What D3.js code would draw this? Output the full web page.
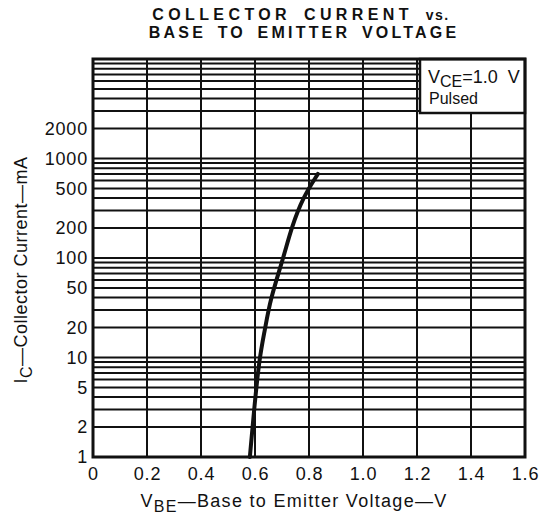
<!DOCTYPE html>
<html>
<head>
<meta charset="utf-8">
<script src="https://cdn.jsdelivr.net/npm/d3@7"></script>
<style>
  html, body { margin: 0; padding: 0; background: #fff; }
  svg { display: block; font-family: "Liberation Sans", Arial, Helvetica, sans-serif; }
</style>
</head>
<body>
<svg id="chart" width="542" height="521"></svg>
<script>
  'use strict';

  // chart values
  var vbeValues = [0.581, 0.594, 0.616, 0.637, 0.656, 0.705, 0.736, 0.779, 0.833];
  var icValues = [1, 2.5, 10, 19, 38, 100, 206, 413, 700];
  var xTickValues = [0, 0.2, 0.4, 0.6, 0.8, 1.0, 1.2, 1.4, 1.6];
  var xTickLabels = ['0', '0.2', '0.4', '0.6', '0.8', '1.0', '1.2', '1.4', '1.6'];
  var yTickValues = [1, 2, 5, 10, 20, 50, 100, 200, 500, 1000, 2000];
  var titleLines = ['COLLECTOR CURRENT', 'BASE TO EMITTER VOLTAGE'];

  (function () {
    var svg = d3.select('#chart'),
      left = 93,
      right = 525,
      top = 59,
      bottom = 457;

    var x = d3.scaleLinear().domain([0, 1.6]).range([left, right]);
    var y = d3.scaleLog().domain([1, 10000]).range([bottom, top]);

    // minor log grid: 1..9 in every decade
    var gridY = [];
    [1, 10, 100, 1000].forEach(function (dec) {
      for (var k = 1; k < 10; k++) gridY.push(dec * k);
    });

    var legendBox = { x0: 420, y1: 113 };

    var grid = svg.append('g');

    grid.selectAll('line.h')
      .data(gridY)
      .enter().append('line')
      .attr('class', 'h')
      .attr('x1', left).attr('x2', right)
      .attr('y1', function (d) { return y(d); })
      .attr('y2', function (d) { return y(d); })
      .attr('stroke', '#111')
      .attr('stroke-width', 2);

    grid.selectAll('line.v')
      .data(xTickValues.slice(1, -1))
      .enter().append('line')
      .attr('class', 'v')
      .attr('x1', function (d) { return x(d); })
      .attr('x2', function (d) { return x(d); })
      .attr('y1', top).attr('y2', bottom)
      .attr('stroke', '#111')
      .attr('stroke-width', 2);

    // legend box (covers the grid under it)
    var legend = svg.append('g');
    legend.append('rect')
      .attr('x', legendBox.x0).attr('y', top)
      .attr('width', right - legendBox.x0).attr('height', legendBox.y1 - top)
      .attr('fill', '#fff')
      .attr('stroke', '#111')
      .attr('stroke-width', 2.5);

    var vce = legend.append('text')
      .attr('x', 428).attr('y', 83)
      .attr('font-size', 18)
      .attr('fill', '#111');
    vce.append('tspan').text('V');
    vce.append('tspan').attr('dy', 4).attr('font-size', 16).text('CE');
    vce.append('tspan').attr('dy', -4).attr('xml:space', 'preserve').text('=1.0  V');

    legend.append('text')
      .attr('x', 429).attr('y', 104)
      .attr('font-size', 16)
      .attr('fill', '#111')
      .text('Pulsed');

    // plot border
    svg.append('rect')
      .attr('x', left).attr('y', top)
      .attr('width', right - left).attr('height', bottom - top)
      .attr('fill', 'none')
      .attr('stroke', '#111')
      .attr('stroke-width', 3);

    // curve
    var line = d3.line()
      .x(function (d) { return x(d[0]); })
      .y(function (d) { return y(d[1]); })
      .curve(d3.curveBasis);

    svg.append('path')
      .datum(d3.zip(vbeValues, icValues))
      .attr('d', line)
      .attr('fill', 'none')
      .attr('stroke', '#111')
      .attr('stroke-width', 4)
      .attr('stroke-linecap', 'round');

    // axes (labels only, the grid draws the lines)
    var xAxis = d3.axisBottom(x)
      .tickValues(xTickValues)
      .tickSize(0)
      .tickPadding(10)
      .tickFormat(function (d, i) { return xTickLabels[i]; });

    var yAxis = d3.axisLeft(y)
      .tickValues(yTickValues)
      .tickSize(0)
      .tickPadding(5)
      .tickFormat(d3.format('d'));

    var gx = svg.append('g')
      .attr('transform', 'translate(0,' + bottom + ')')
      .call(xAxis);
    var gy = svg.append('g')
      .attr('transform', 'translate(' + left + ',0)')
      .call(yAxis);

    [gx, gy].forEach(function (g) {
      g.select('.domain').remove();
      g.selectAll('text')
        .attr('font-size', 18)
        .attr('letter-spacing', 0.8)
        .attr('font-family', '"Liberation Sans", Arial, sans-serif')
        .attr('fill', '#111');
    });

    // title
    var title = svg.append('g')
      .attr('font-weight', 'bold')
      .attr('font-size', 16)
      .attr('word-spacing', 4)
      .attr('fill', '#111');

    var t1 = title.append('text')
      .attr('x', 301).attr('y', 20)
      .attr('letter-spacing', 4.4)
      .attr('text-anchor', 'middle');
    t1.append('tspan').text(titleLines[0] + ' ');
    t1.append('tspan').attr('font-size', 14).attr('letter-spacing', 1.5).text('vs.');

    title.append('text')
      .attr('x', 304).attr('y', 38)
      .attr('letter-spacing', 3.2)
      .attr('text-anchor', 'middle')
      .text(titleLines[1]);

    // x axis title
    var xt = svg.append('text')
      .attr('x', 294).attr('y', 507)
      .attr('text-anchor', 'middle')
      .attr('font-size', 18)
      .attr('letter-spacing', 1.3)
      .attr('fill', '#111');
    xt.append('tspan').text('V');
    xt.append('tspan').attr('dy', 5).attr('font-size', 16).text('BE');
    xt.append('tspan').attr('dy', -5).text('\u2014Base to Emitter Voltage\u2014V');

    // y axis title
    var yt = svg.append('text')
      .attr('transform', 'translate(27,270) rotate(-90)')
      .attr('text-anchor', 'middle')
      .attr('font-size', 18)
      .attr('letter-spacing', 0.5)
      .attr('fill', '#111');
    yt.append('tspan').text('I');
    yt.append('tspan').attr('dy', 5).attr('font-size', 16).text('C');
    yt.append('tspan').attr('dy', -5).text('\u2014Collector Current\u2014mA');
  })();
</script>
</body>
</html>
